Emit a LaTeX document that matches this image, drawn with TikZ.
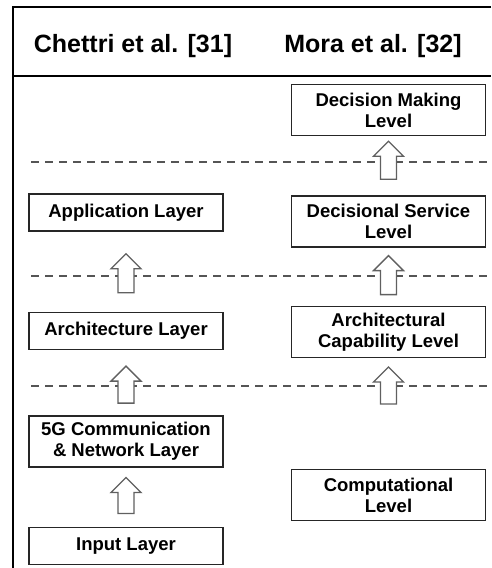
\documentclass[tikz,border=0pt]{standalone}
\usepackage{fontspec}
\setmainfont{Liberation Sans}
\usepackage{tikz}
\usetikzlibrary{positioning,calc}
\usepackage{xcolor}
\definecolor{ink}{HTML}{000000}
\definecolor{boxline}{HTML}{262626}
\definecolor{dashgray}{HTML}{555555}
\definecolor{arrowgray}{HTML}{606060}
\tikzset{
  base/.style={font=\bfseries\fontsize{18.5}{21}\selectfont,text=ink,align=center,draw=boxline,line width=1.4pt,fill=white,inner sep=2pt,minimum width=194pt,minimum height=37pt},
  layer/.style={base},
  level/.style={base,minimum height=51pt},
  head/.style={font=\bfseries\fontsize{25}{30}\selectfont,text=ink},
  frameline/.style={line width=2pt,draw=black},
  divider/.style={draw=dashgray,line width=1.2pt,dash pattern=on 8pt off 6pt},
  lift/.style={draw=arrowgray,line width=1.3pt,fill=white,
    to path={($(\tikztostart)+(-8,0)$) -- ($(\tikztotarget)+(-8,15)$) -- ($(\tikztotarget)+(-15,15)$)
      -- (\tikztotarget) -- ($(\tikztotarget)+(15,15)$) -- ($(\tikztotarget)+(8,15)$) -- ($(\tikztostart)+(8,0)$) -- cycle}}
}
\begin{document}
\begin{tikzpicture}[x=1pt,y=-1pt]
\useasboundingbox (0,0) rectangle (491,568);
% frame and header
\draw[frameline] (491,7) -- (12.5,7) -- (12.5,568);
\draw[frameline] (12.5,76) -- (491,76);
\node[head] (chettri) at (133,46) {Chettri et al. [31]};
\node[head] (mora) at (373,46) {Mora et al. [32]};
% Chettri et al. layers
\node[layer] (app) at (126,212.5) {Application Layer};
\node[layer,below=80pt of app] (arch) {Architecture Layer};
\node[level,below=65pt of arch] (net) {5G Communication\\\& Network Layer};
\node[layer,below=59pt of net] (input) {Input Layer};
% Mora et al. levels
\node[level] (dml) at (388.5,110) {Decision Making\\Level};
\node[level,below=59pt of dml] (dsl) {Decisional Service\\Level};
\node[level,below=58pt of dsl] (acl) {Architectural\\Capability Level};
\node[level,below=111pt of acl] (comp) {Computational\\Level};
% dividers
\draw[divider] (31,162) -- (487,162);
\draw[divider] (31,276) -- (487,276);
\draw[divider] (31,386) -- (487,386);
% hollow arrows
\draw[lift] ($(dsl.north)+(0,-16)$) to ($(dml.south)+(0,5)$);
\draw[lift] ($(arch.north)+(0,-19)$) to ($(app.south)+(0,22)$);
\draw[lift] ($(acl.north)+(0,-11)$) to ($(dsl.south)+(0,8)$);
\draw[lift] ($(net.north)+(0,-12)$) to ($(arch.south)+(0,16)$);
\draw[lift] ($(comp.north)+(0,-65)$) to ($(acl.south)+(0,9)$);
\draw[lift] ($(input.north)+(0,-13)$) to ($(net.south)+(0,10)$);
\end{tikzpicture}
\end{document}
